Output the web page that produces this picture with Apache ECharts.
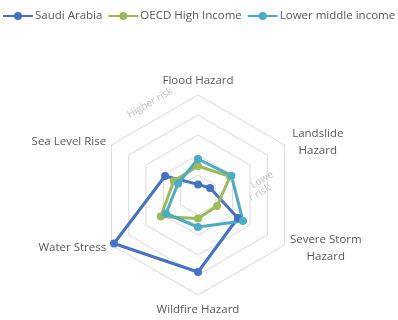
<!DOCTYPE html>
<html><head><meta charset="utf-8">
<script src="https://cdn.jsdelivr.net/npm/echarts@6/dist/echarts.min.js"></script>
<style>html,body{margin:0;padding:0;background:#fff}#c{width:398px;height:320px}</style>
</head><body><div id="c"></div>
<script>
var indicatorNames = ['Flood Hazard','Sea Level Rise','Water Stress','Wildfire Hazard','Severe Storm\nHazard','Landslide\nHazard'];
var seriesNames = ['Saudi Arabia','OECD High Income','Lower middle income'];
var saudi = [0.53, 1.9, 4.85, 3.85, 2.3, 0.7];
var oecd = [1.45, 1.4, 2.15, 1.17, 1.1, 1.85];
var lmi = [1.8, 1.15, 1.85, 1.6, 2.6, 1.93];
var colors = ['#4472C4','#9BBB59','#4BACC6'];
var font = 'Open Sans';
var chart = echarts.init(document.getElementById('c'));
var legendSeries = seriesNames.map(function(n,i){
  return {type:'line', name:n, data:[], symbol:'circle', symbolSize:8,
    itemStyle:{color:colors[i]}, lineStyle:{color:colors[i], width:3}};
});
var richBase = {color:'#595959', fontFamily:font, fontSize:11.5, lineHeight:17, align:'center'};
chart.setOption({
  animation:false,
  color: colors,
  grid:{show:false, left:0, top:0, width:1, height:1},
  xAxis:{show:false, type:'value'},
  yAxis:{show:false, type:'value'},
  legend:{left:2, top:10, padding:0, width:700, itemWidth:30, itemHeight:10, itemGap:5,
    textStyle:{fontFamily:font, fontSize:11.5, color:'#595959', padding:[0,0,0,-3]},
    data: seriesNames},
  radar:{center:[198,195], radius:100, startAngle:90, splitNumber:5, shape:'polygon',
    indicator: indicatorNames.map(function(n){return {name:n, min:0, max:5};}),
    axisName:{color:'#595959', fontFamily:font, fontSize:11.5, lineHeight:17,
      formatter:function(v){
        if (v.indexOf('\n') < 0) return v;
        var key = v.indexOf('Severe') === 0 ? 'b' : 'a';
        return v.split('\n').map(function(s){return '{'+key+'|'+s+'}';}).join('\n');
      },
      rich:{
        a:Object.assign({width:56}, richBase),
        b:Object.assign({width:72}, richBase)
      }
    },
    nameGap:6,
    splitLine:{lineStyle:{color:'#D9D9D9', width:1}},
    splitArea:{show:false},
    axisLine:{show:false},
    axisTick:{show:false}
  },
  graphic:[
    {type:'text', x:150, y:103, rotation:Math.PI/6, style:{text:'Higher risk', fill:'#BFBFBF', font:'10px "Open Sans"', align:'center', verticalAlign:'middle'}},
    {type:'text', x:262, y:180, rotation:Math.PI/6, style:{text:'Lowe', fill:'#BFBFBF', font:'10px "Open Sans"', align:'center', verticalAlign:'middle'}},
    {type:'text', x:260, y:193, rotation:Math.PI/6, style:{text:'r risk', fill:'#BFBFBF', font:'10px "Open Sans"', align:'center', verticalAlign:'middle'}}
  ],
  series:legendSeries.concat([{type:'radar', symbol:'circle', symbolSize:8,
    lineStyle:{width:3},
    data:[
      {name:seriesNames[0], value:saudi, itemStyle:{color:colors[0]}, lineStyle:{color:colors[0], width:3}},
      {name:seriesNames[1], value:oecd, itemStyle:{color:colors[1]}, lineStyle:{color:colors[1], width:3}},
      {name:seriesNames[2], value:lmi, itemStyle:{color:colors[2]}, lineStyle:{color:colors[2], width:3}}
    ]}])
});
</script></body></html>
